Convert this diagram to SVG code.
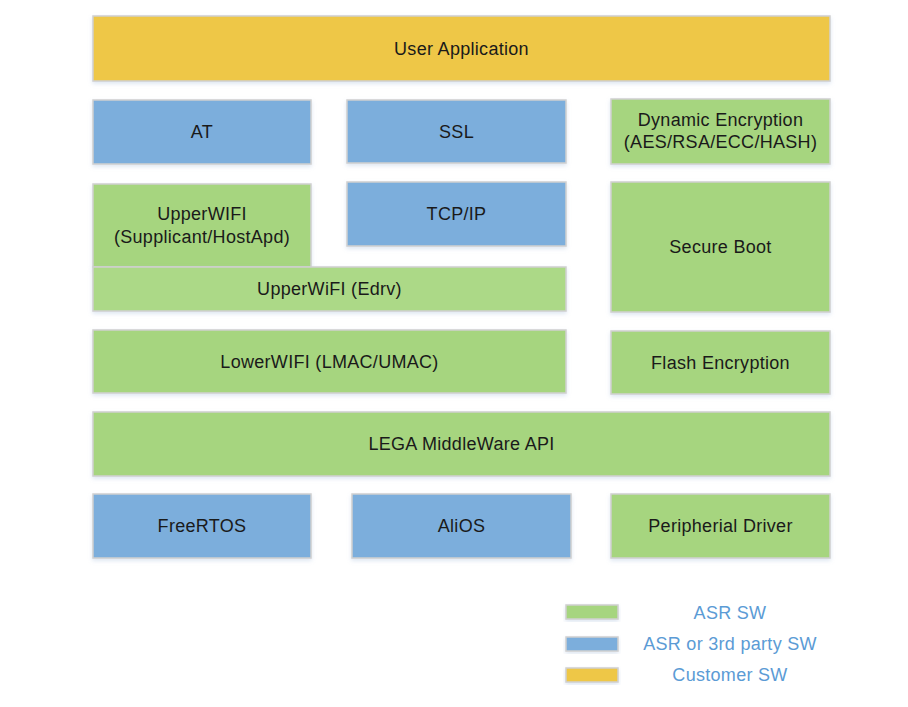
<svg xmlns="http://www.w3.org/2000/svg" width="908" height="707" viewBox="0 0 908 707">
<style>
.b{stroke:#d0d0d0;stroke-width:1.5;filter:url(#sh)}
.y{fill:#EEC746}
.u{fill:#7BAEDC}
.g{fill:#A6D57F}
.lg{fill:#ACD987}
text{font-family:"Liberation Sans",Arial,sans-serif;font-size:18px;letter-spacing:0.3px;fill:#1a1a1a;text-anchor:middle;dominant-baseline:central}
.l{fill:#5B9BD5}
</style>
<defs>
<filter id="sh" x="-5%" y="-10%" width="110%" height="130%">
<feDropShadow dx="0" dy="2" stdDeviation="2" flood-color="#9db7d8" flood-opacity="0.35"/>
</filter>
</defs>
<rect width="908" height="707" fill="#fff"/>
<g id="user-app"><rect class="b y" x="93" y="16" width="737" height="65"/><text x="461.5" y="48.5">User Application</text></g>
<g id="at"><rect class="b u" x="93" y="100" width="218" height="64"/><text x="202" y="132">AT</text></g>
<g id="ssl"><rect class="b u" x="347" y="100" width="219" height="63"/><text x="456.5" y="131.5">SSL</text></g>
<g id="dyn-enc"><rect class="b g" x="611" y="99" width="219" height="65"/><text x="720.5" y="120">Dynamic Encryption</text><text x="720.5" y="142">(AES/RSA/ECC/HASH)</text></g>
<g id="upperwifi"><rect class="b g" x="93" y="184" width="218" height="83"/><text x="202" y="214">UpperWIFI</text><text x="202" y="237">(Supplicant/HostApd)</text></g>
<g id="tcpip"><rect class="b u" x="347" y="182" width="219" height="64"/><text x="456.5" y="214">TCP/IP</text></g>
<g id="secure-boot"><rect class="b g" x="611" y="182" width="219" height="130"/><text x="720.5" y="247">Secure Boot</text></g>
<g id="edrv"><rect class="b lg" x="93" y="267" width="473" height="44"/><text x="329.5" y="289">UpperWiFI (Edrv)</text></g>
<g id="lowerwifi"><rect class="b g" x="93" y="330" width="473" height="63"/><text x="329.5" y="361.5">LowerWIFI (LMAC/UMAC)</text></g>
<g id="flash-enc"><rect class="b g" x="611" y="331" width="219" height="63"/><text x="720.5" y="362.5">Flash Encryption</text></g>
<g id="lega"><rect class="b g" x="93" y="412" width="737" height="64"/><text x="461.5" y="443.5">LEGA MiddleWare API</text></g>
<g id="freertos"><rect class="b u" x="93" y="494" width="218" height="64"/><text x="202" y="526">FreeRTOS</text></g>
<g id="alios"><rect class="b u" x="352" y="494" width="219" height="64"/><text x="461.5" y="526">AliOS</text></g>
<g id="periph"><rect class="b g" x="611" y="494" width="219" height="64"/><text x="720.5" y="526">Peripherial Driver</text></g>
<g id="legend">
<rect class="b g" x="566" y="605" width="52" height="14"/><text class="l" x="730" y="613">ASR SW</text>
<rect class="b u" x="566" y="637" width="52" height="14"/><text class="l" x="730" y="644">ASR or 3rd party SW</text>
<rect class="b y" x="566" y="668" width="52" height="14"/><text class="l" x="730" y="675">Customer SW</text>
</g>
<g id="connectors"></g>
</svg>
